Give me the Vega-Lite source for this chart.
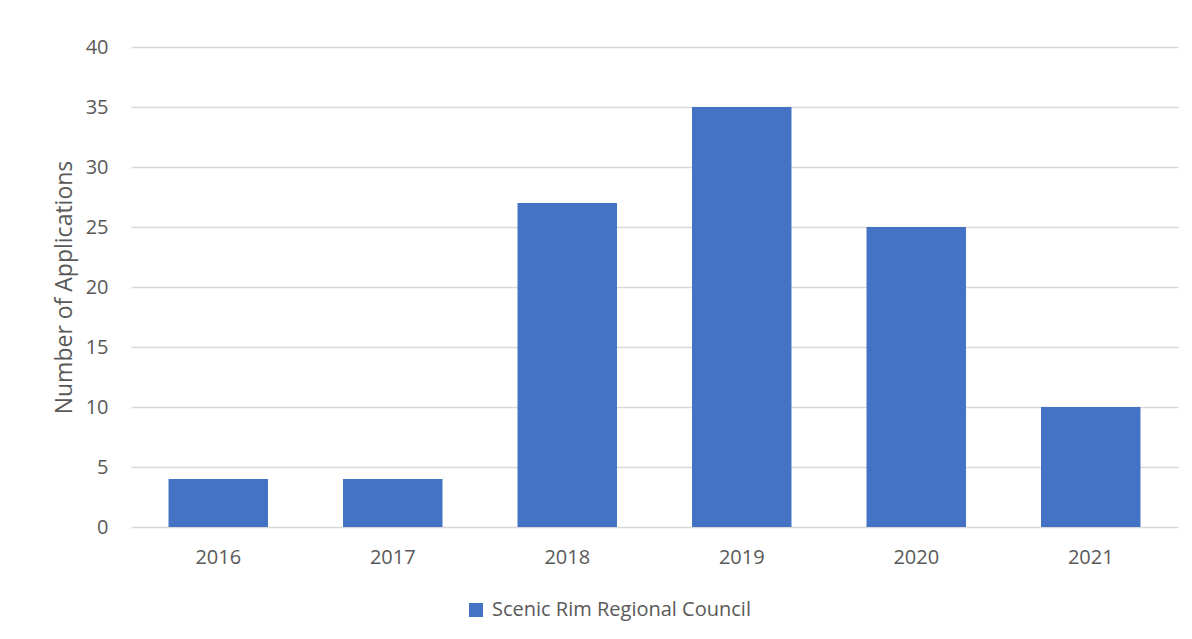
{
  "$schema": "https://vega.github.io/schema/vega-lite/v6.json",
  "width": 1047,
  "height": 480,
  "autosize": {"type": "none"},
  "padding": {"left": 131, "top": 47, "right": 14, "bottom": 112},
  "background": "white",
  "config": {
    "view": {"stroke": null},
    "font": "Open Sans"
  },
  "data": {
    "values": [
      {"year": "2016", "applications": 4, "series": "Scenic Rim Regional Council"},
      {"year": "2017", "applications": 4, "series": "Scenic Rim Regional Council"},
      {"year": "2018", "applications": 27, "series": "Scenic Rim Regional Council"},
      {"year": "2019", "applications": 35, "series": "Scenic Rim Regional Council"},
      {"year": "2020", "applications": 25, "series": "Scenic Rim Regional Council"},
      {"year": "2021", "applications": 10, "series": "Scenic Rim Regional Council"}
    ]
  },
  "mark": {"type": "bar"},
  "encoding": {
    "x": {
      "field": "year",
      "type": "ordinal",
      "scale": {"paddingInner": 0.43, "paddingOuter": 0.215},
      "axis": {
        "title": null,
        "labelAngle": 0,
        "labelFontSize": 20,
        "labelColor": "#595959",
        "labelPadding": 20,
        "ticks": false,
        "domain": false
      }
    },
    "y": {
      "field": "applications",
      "type": "quantitative",
      "scale": {"domain": [0, 40]},
      "axis": {
        "title": "Number of Applications",
        "titleFontSize": 23,
        "titleFontWeight": "normal",
        "titleColor": "#595959",
        "titlePadding": 9,
        "values": [0, 5, 10, 15, 20, 25, 30, 35, 40],
        "labelFontSize": 20,
        "labelColor": "#595959",
        "labelPadding": 23,
        "ticks": false,
        "domain": false,
        "grid": true,
        "gridColor": "#d9d9d9",
        "gridWidth": 1.3
      }
    },
    "color": {
      "field": "series",
      "type": "nominal",
      "scale": {"domain": ["Scenic Rim Regional Council"], "range": ["#4472c4"]},
      "legend": {
        "title": null,
        "orient": "none",
        "legendX": 335,
        "legendY": 553,
        "symbolType": "square",
        "symbolSize": 196,
        "symbolStrokeWidth": 0,
        "labelFontSize": 20,
        "labelColor": "#595959",
        "labelOffset": 6,
        "labelLimit": 500
      }
    }
  }
}
